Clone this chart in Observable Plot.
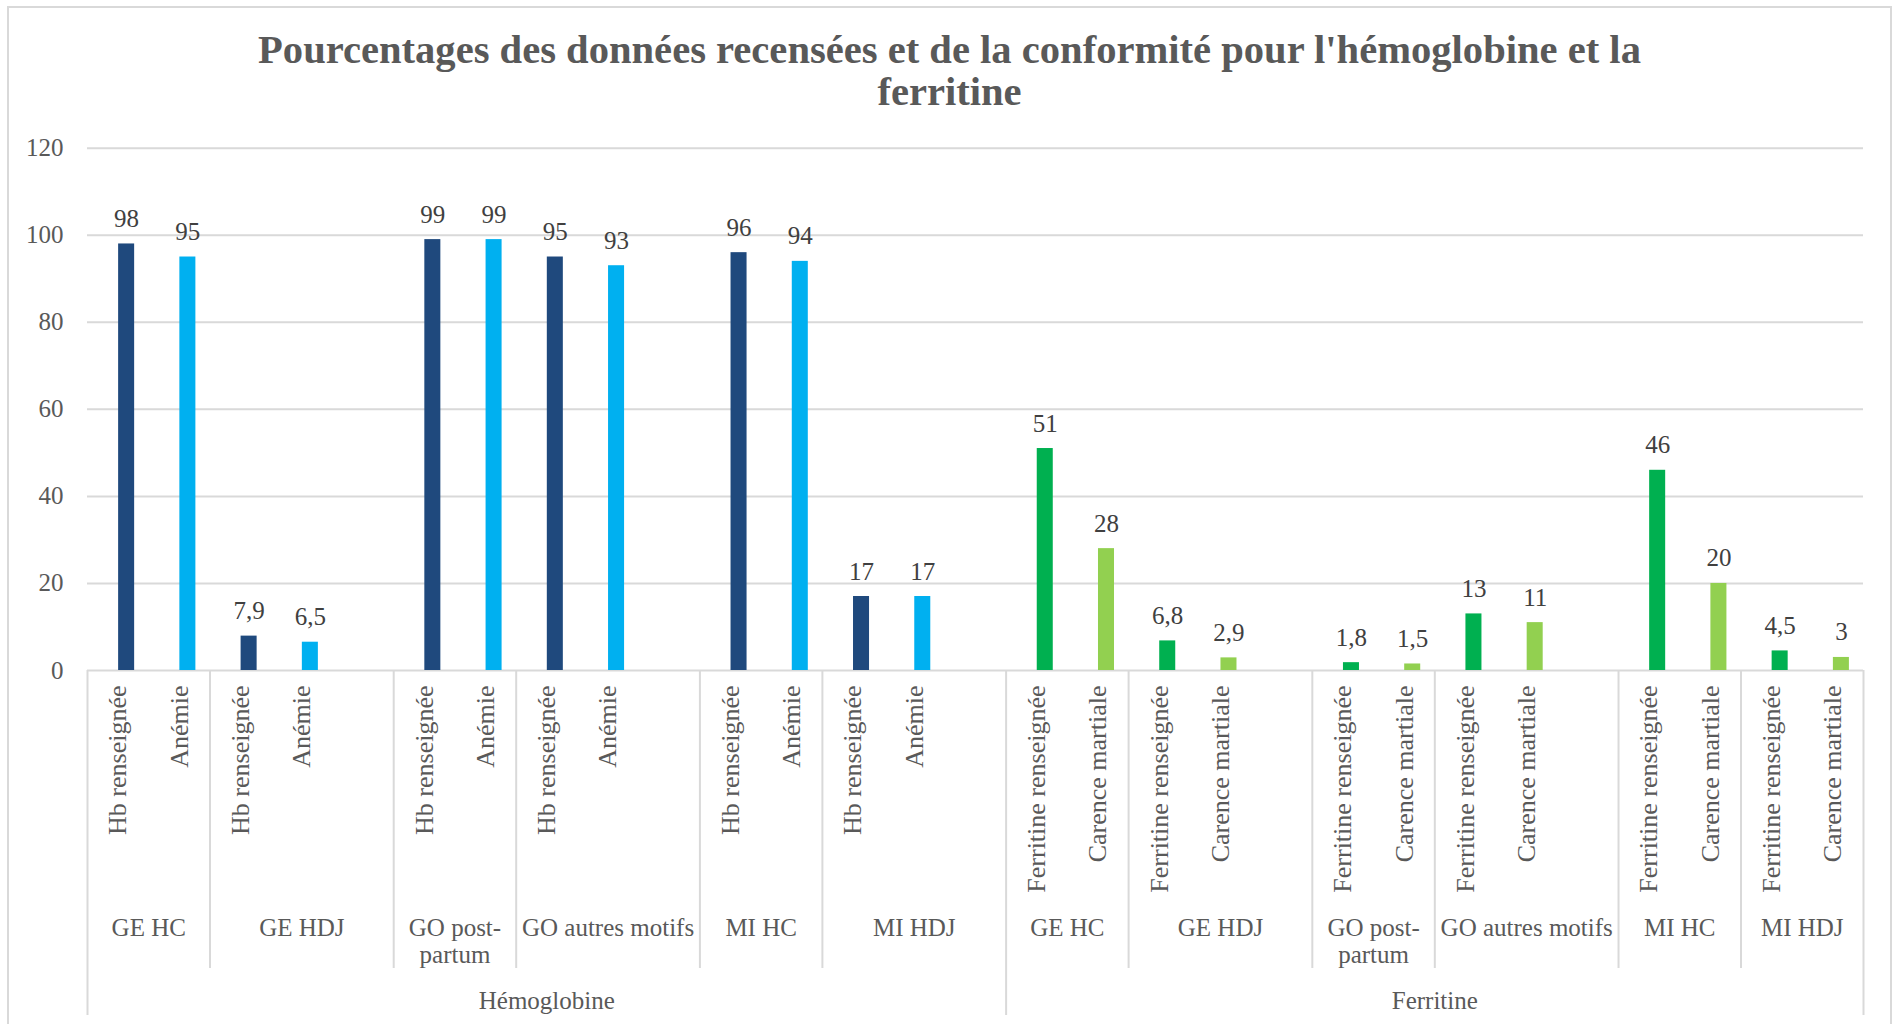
<!DOCTYPE html>
<html>
<head>
<meta charset="utf-8">
<script src="https://cdn.jsdelivr.net/npm/d3@7"></script>
<script src="https://cdn.jsdelivr.net/npm/@observablehq/plot@0.6"></script>
<style>
  html, body { margin: 0; padding: 0; background: #fff; width: 1892px; height: 1024px; overflow: hidden; }
  #frame { position: absolute; left: 7px; top: 6px; width: 1885px; height: 1100px; border: 2px solid #d9d9d9; box-sizing: border-box; pointer-events: none; }
  #title { box-sizing: border-box; height: 120px; padding-top: 28.5px; padding-left: 7px; width: 1892px; text-align: center;
           font-family: "Liberation Serif", serif; font-weight: bold; font-size: 40.6px; line-height: 42px; color: #595959; }
  #chart svg { display: block; }
</style>
</head>
<body>
<div id="title">Pourcentages des données recensées et de la conformité pour l'hémoglobine et la<br>ferritine</div>
<div id="chart"></div>
<div id="frame"></div>
<script>
// ---- Data ----
const blocks = ["Hémoglobine", "Ferritine"];
const services = ["GE HC", "GE HDJ", "GO post-partum", "GO autres motifs", "MI HC", "MI HDJ"];
const hbSeries = ["Hb renseignée", "Anémie"];
const ferSeries = ["Ferritine renseignée", "Carence martiale"];
const hbRenseignee = [98, 7.9, 99, 95, 96, 17];
const anemie = [95, 6.5, 99, 93, 94, 17];
const ferritineRenseignee = [51, 6.8, 1.8, 13, 46, 4.5];
const carenceMartiale = [28, 2.9, 1.5, 11, 20, 3];
// category slots per service (the source sheet had a blank row after every second service)
const hbSlots = [2, 3, 2, 3, 2, 3];
const ferSlots = [2, 3, 2, 3, 2, 2];
const yTicks = [0, 20, 40, 60, 80, 100, 120];
const seriesColors = {
  "Hb renseignée": "#1F497D",
  "Anémie": "#00B0F0",
  "Ferritine renseignée": "#00B050",
  "Carence martiale": "#92D050"
};

// ---- Build category structure ----
const rows = [];
const groups = [];
const blockSpans = [];
const level3Bounds = [];
const groupBounds = [];
let idx = 0;
const blockDefs = [
  {name: blocks[0], series: hbSeries, values: [hbRenseignee, anemie], slots: hbSlots},
  {name: blocks[1], series: ferSeries, values: [ferritineRenseignee, carenceMartiale], slots: ferSlots}
];
blockDefs.forEach((b) => {
  const bStart = idx;
  level3Bounds.push(bStart);
  services.forEach((s, j) => {
    const gStart = idx;
    if (gStart !== bStart) groupBounds.push(gStart);
    b.series.forEach((ser, k) => {
      rows.push({idx: idx, block: b.name, service: s, series: ser, value: b.values[k][j]});
      idx++;
    });
    idx += b.slots[j] - 2;
    groups.push({label: s.replace("post-", "post-\n"), center: (gStart + idx) / 2});
  });
  blockSpans.push({label: b.name, center: (bStart + idx) / 2});
});
level3Bounds.push(idx);
const nSlots = idx;

const fmt = (v) => String(v).replace(".", ",");
const textColor = "#595959";

const chart = Plot.plot({
  width: 1892,
  height: 904,
  marginLeft: 87,
  marginRight: 29,
  marginTop: 27.7,
  marginBottom: 354,
  x: {domain: [0, nSlots]},
  y: {domain: [0, 120]},
  style: {fontFamily: "'Liberation Serif', serif", fontSize: "25px", color: textColor, background: "transparent"},
  marks: [
    Plot.ruleY(yTicks, {stroke: "#d9d9d9", strokeWidth: 2}),
    Plot.axisY(yTicks, {tickSize: 0, tickPadding: 24, label: null, fontSize: 25, fill: textColor, tickFormat: (d) => String(d)}),
    Plot.axisX(level3Bounds, {tickSize: 345, tickFormat: () => "", label: null, stroke: "#d9d9d9", strokeWidth: 2}),
    Plot.axisX(groupBounds, {tickSize: 298, tickFormat: () => "", label: null, stroke: "#d9d9d9", strokeWidth: 2}),
    Plot.rect(rows, {
      x1: (d) => d.idx + 0.5,
      x2: (d) => d.idx + 1,
      y1: 0,
      y2: "value",
      fill: (d) => seriesColors[d.series],
      insetLeft: 0.5,
      insetRight: 14.1
    }),
    Plot.text(rows, {
      x: (d) => d.idx + 0.5,
      y: "value",
      text: (d) => fmt(d.value),
      dx: 8.5,
      dy: -17,
      lineAnchor: "bottom",
      fontSize: 25,
      fill: "#404040"
    }),
    Plot.text(rows, {
      x: (d) => d.idx + 0.5,
      frameAnchor: "bottom",
      text: "series",
      rotate: -90,
      textAnchor: "end",
      lineAnchor: "middle",
      dy: 15,
      fontSize: 26,
      fill: textColor
    }),
    Plot.text(groups, {
      x: "center",
      frameAnchor: "bottom",
      text: "label",
      lineAnchor: "top",
      lineHeight: 1.05,
      dy: 247.25,
      fontSize: 25,
      fill: textColor
    }),
    Plot.text(blockSpans, {
      x: "center",
      frameAnchor: "bottom",
      text: "label",
      lineAnchor: "bottom",
      dy: 338,
      fontSize: 25,
      fill: textColor
    })
  ]
});
document.getElementById("chart").appendChild(chart);
</script>
</body>
</html>
